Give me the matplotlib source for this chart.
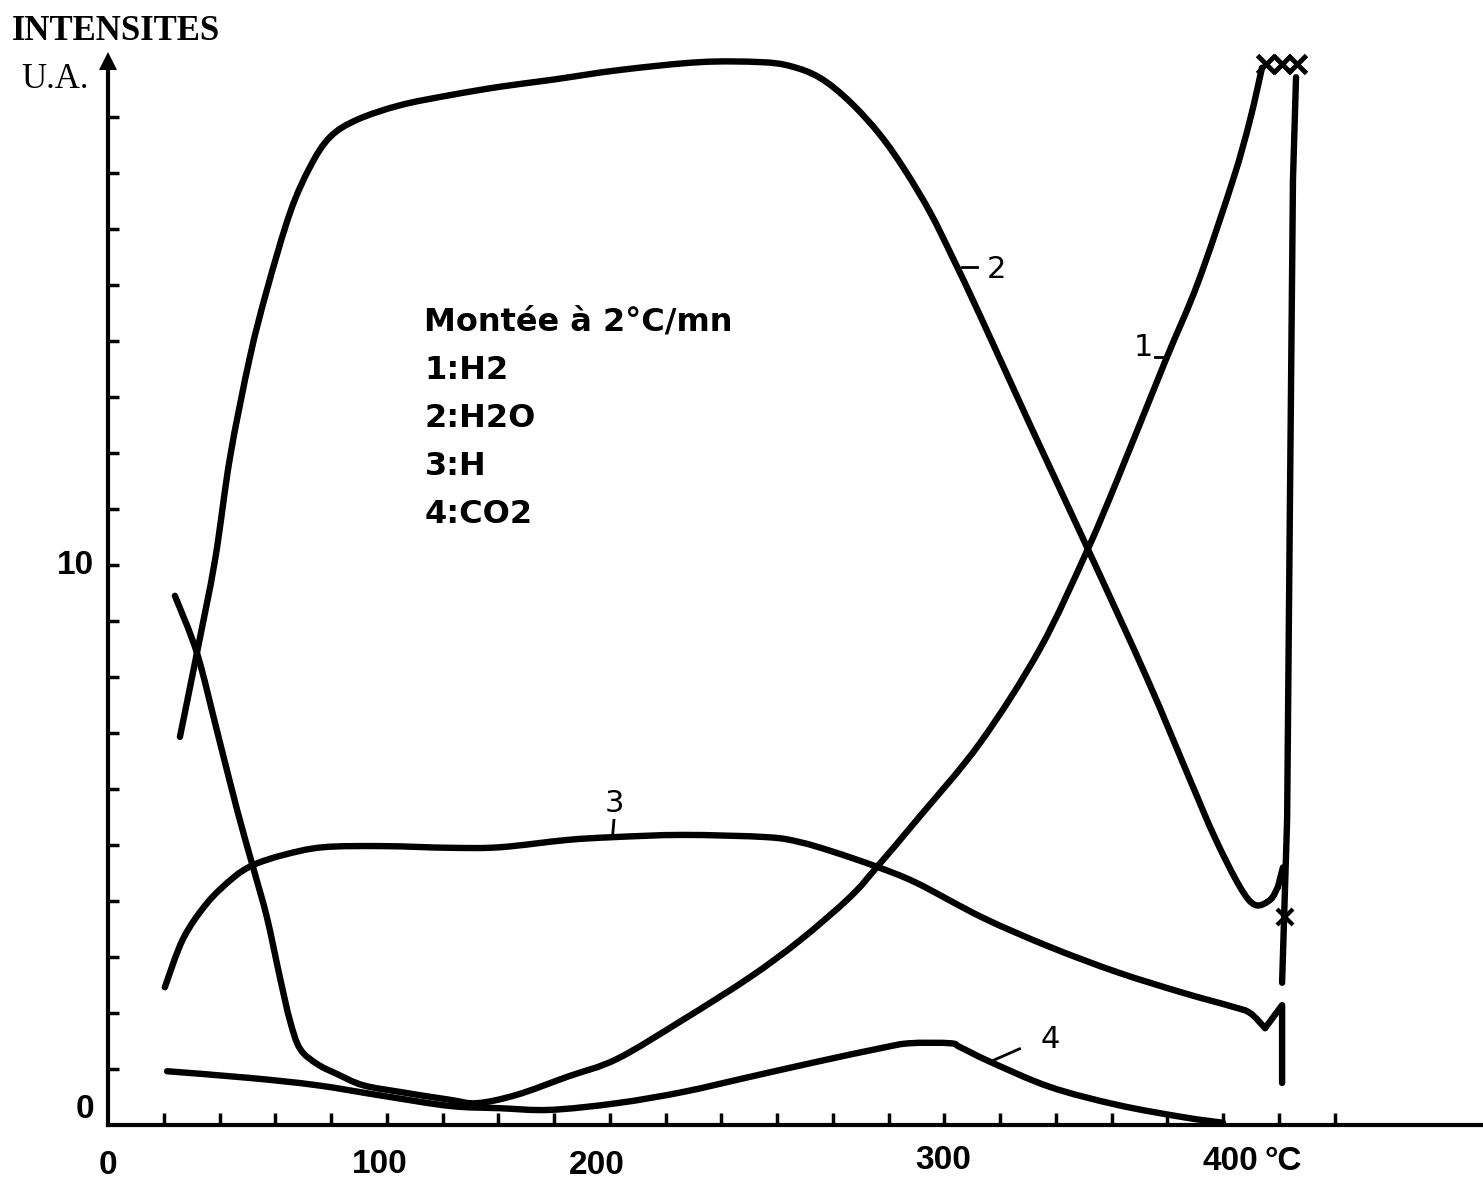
import numpy as np
import matplotlib
matplotlib.use("Agg")
import matplotlib.pyplot as plt
from matplotlib.path import Path
from matplotlib.patches import PathPatch

# ---------------- data ----------------
# Curve 1 : H2
h2_x = [24.0, 31.9, 39.1, 46.3, 52.0, 57.0, 61.7, 65.3, 68.9, 75.0, 82.2, 91.5,
        104.8, 122.7, 132.4, 146.7, 164.7, 182.6, 206.3, 230.3, 248.3, 266.2,
        275.9, 290.2, 312.8, 334.3, 351.2, 362.3, 379.2, 391.0, 403.6, 409.7, 414.0]
h2_y = [9.45, 8.43, 7.04, 5.63, 4.61, 3.71, 2.63, 1.86, 1.36, 1.09, 0.91, 0.71,
        0.59, 0.45, 0.39, 0.54, 0.86, 1.18, 1.88, 2.64, 3.30, 4.07,
        4.61, 5.45, 6.82, 8.50, 10.25, 11.55, 13.63, 15.04, 16.88, 17.95, 18.88]
# sudden drop after saturation (off-scale)
drop_x = [426.2, 425.1, 424.0, 423.0, 421.2]
drop_y = [18.71, 16.88, 11.05, 5.45, 2.54]

# Curve 2 : H2O
h2o_x = [25.8, 31.9, 38.4, 43.8, 50.9, 57.0, 65.3, 72.5, 79.6, 89.3, 104.8, 122.7,
         140.6, 158.6, 183.7, 212.4, 233.9, 244.7, 255.4, 266.2, 277.0, 285.9,
         294.9, 303.1, 312.8, 330.8, 351.2, 372.7, 388.2, 397.1, 406.1, 411.5,
         416.9, 419.7]
h2o_y = [6.93, 8.43, 10.09, 11.93, 13.71, 14.91, 16.29, 17.11, 17.64, 17.95, 18.21,
         18.39, 18.54, 18.66, 18.84, 18.98, 18.98, 18.91, 18.70, 18.27, 17.68,
         17.05, 16.30, 15.48, 14.46, 12.50, 10.32, 7.98, 6.16, 5.13, 4.25, 3.93,
         4.02, 4.25]
h2o_tail_x = [419.7, 421.5]
h2o_tail_y = [4.25, 4.60]

# Curve 3 : H
h_x = [20.4, 26.9, 35.5, 44.8, 52.0, 62.8, 77.1, 98.7, 122.7, 140.6, 164.7, 181.2,
       206.3, 236.4, 248.3, 260.1, 275.9, 290.2, 313.9, 337.9, 362.0, 385.7,
       403.6, 409.7, 415.1]
h_y = [2.46, 3.32, 3.96, 4.41, 4.64, 4.82, 4.96, 4.98, 4.95, 4.96, 5.09, 5.14,
       5.18, 5.14, 5.05, 4.88, 4.61, 4.32, 3.70, 3.18, 2.73, 2.36,
       2.11, 2.00, 1.73]
h_tail_x = [415.1, 421.2, 421.2]
h_tail_y = [1.73, 2.14, 0.75]

# Curve 4 : CO2
co2_x = [21.2, 50.9, 75.0, 98.7, 122.7, 140.6, 158.6, 182.6, 206.3, 230.3, 254.4,
         278.0, 287.7, 302.1, 305.7, 316.4, 337.9, 362.0, 385.7, 400.0]
co2_y = [0.96, 0.84, 0.71, 0.52, 0.34, 0.30, 0.27, 0.39, 0.59, 0.86, 1.13,
         1.38, 1.46, 1.46, 1.39, 1.13, 0.68, 0.36, 0.14, 0.04]

# saturation crosses and end cross
sat_x = [415.5, 421.0, 426.5]
sat_y = [18.95, 18.95, 18.95]
end_x = [422.2]
end_y = [3.71]

# axis labels
x_label_pos = [0, 97.5, 175.5, 299.5]
x_label_y = [-0.72, -0.70, -0.73, -0.64]
x_label_txt = ["0", "100", "200", "300"]
x_last_label = "400"
x_last_pos = 412.6
x_unit = "°C"
x_unit_pos = 414.8
y_label_txt = ["0", "10"]
y_label_pos = [0.27, 10.0]
y_label_x = [-8.2, -11.8]
y_ticks = list(range(1, 19))
x_ticks = list(range(20, 460, 20))

legend_lines = ["Montée à 2°C/mn", "1:H2", "2:H2O", "3:H", "4:CO2"]


def smooth_path(xs, ys):
    """Smooth curve through the read points (Catmull-Rom as cubic Bezier)."""
    P = np.column_stack([xs, ys]).astype(float)
    n = len(P)
    verts = [P[0]]
    codes = [Path.MOVETO]
    for i in range(n - 1):
        p0 = P[i - 1] if i > 0 else P[i]
        p1, p2 = P[i], P[i + 1]
        p3 = P[i + 2] if i + 2 < n else P[i + 1]
        c1 = p1 + (p2 - p0) / 6.0
        c2 = p2 - (p3 - p1) / 6.0
        verts += [c1, c2, p2]
        codes += [Path.CURVE4] * 3
    return Path(verts, codes)


# ---------------- figure ----------------
W, H = 1483, 1182
fig = plt.figure(figsize=(W / 100, H / 100), dpi=100)
fig.patch.set_facecolor("white")

px_per_deg = 2.7875
px_per_unit = 56.0
x0_px, y0_px = 108, 1125
xmax = (W - x0_px) / px_per_deg
top_px = 50
ymax = (y0_px - top_px) / px_per_unit
ax = fig.add_axes([x0_px / W, (H - y0_px) / H, (W - x0_px) / W, (y0_px - top_px) / H])
ax.set_xlim(0, xmax)
ax.set_ylim(0, ymax)

for s in ["top", "right"]:
    ax.spines[s].set_visible(False)
ax.spines["left"].set_linewidth(3)
ax.spines["bottom"].set_linewidth(3)
ax.spines["left"].set_bounds(0, 19)

ax.set_xticks(x_ticks)
ax.set_xticklabels([])
ax.set_yticks(y_ticks)
ax.set_yticklabels([])
ax.tick_params(axis="x", direction="in", length=9, width=2.5)
ax.tick_params(axis="y", direction="in", length=8, width=2.5)

# arrow on y axis
ax.plot([0], [19.0], marker="^", markersize=13, color="black", clip_on=False,
        markeredgewidth=0)

lw = 4.6
for xs, ys in [(h2_x, h2_y), (h2o_x, h2o_y), (h_x, h_y), (co2_x, co2_y)]:
    ax.add_patch(PathPatch(smooth_path(xs, ys), fill=False, edgecolor="black",
                           lw=lw, capstyle="round", joinstyle="round",
                           clip_on=False))
kw = dict(color="black", lw=lw, solid_capstyle="round", solid_joinstyle="round",
          clip_on=False)
ax.plot(drop_x, drop_y, **kw)
ax.plot(h2o_tail_x, h2o_tail_y, **kw)
ax.plot(h_tail_x, h_tail_y, **kw)
ax.plot(sat_x, sat_y, ls="none", marker="x", markersize=13, mew=3.5, color="black",
        clip_on=False)
ax.plot(end_x, end_y, ls="none", marker="x", markersize=11, mew=3, color="black",
        clip_on=False)

# curve labels with leader lines
lbl_font = dict(fontsize=22, family="DejaVu Sans", color="black")
ax.text(318.9, 15.27, "2", va="center", ha="center", **lbl_font)
ax.plot([306.4, 311.7], [15.32, 15.32], color="black", lw=2)
ax.text(371.3, 13.89, "1", va="center", ha="center", **lbl_font)
ax.plot([375.6, 380.3], [13.71, 13.71], color="black", lw=2)
ax.text(181.8, 5.75, "3", va="center", ha="center", **lbl_font)
ax.plot([181.5, 181.0], [5.44, 5.15], color="black", lw=2)
ax.text(338.0, 1.52, "4", va="center", ha="center", **lbl_font)
ax.plot([327.0, 316.5], [1.36, 1.13], color="black", lw=2)

# legend block
leg_y0 = (y0_px - 322) / px_per_unit
leg_dy = 48 / px_per_unit
for i, t in enumerate(legend_lines):
    ax.text(113.5, leg_y0 - i * leg_dy, t, va="center", ha="left", fontsize=23,
            family="DejaVu Sans", fontweight="bold", color="black")

# axis labels
num_font = dict(fontsize=24, fontweight="bold", family="Liberation Sans",
                clip_on=False)
for xp, yp, t in zip(x_label_pos, x_label_y, x_label_txt):
    ax.text(xp, yp, t, ha="center", va="center", **num_font)
ax.text(x_last_pos, -0.66, x_last_label, ha="right", va="center", **num_font)
ax.text(x_unit_pos, -0.66, x_unit, ha="left", va="center", **num_font)
for xp, yp, t in zip(y_label_x, y_label_pos, y_label_txt):
    ax.text(xp, yp, t, ha="center", va="center", **num_font)

# axis title
fig.text(12 / W, 1 - 32 / H, "INTENSITES", ha="left", va="center", fontsize=25,
         fontweight="bold", family="Liberation Serif")
fig.text(21 / W, 1 - 80 / H, "U.A.", ha="left", va="center", fontsize=25,
         family="Liberation Serif")

fig.savefig("out.png", dpi=100, facecolor="white")
